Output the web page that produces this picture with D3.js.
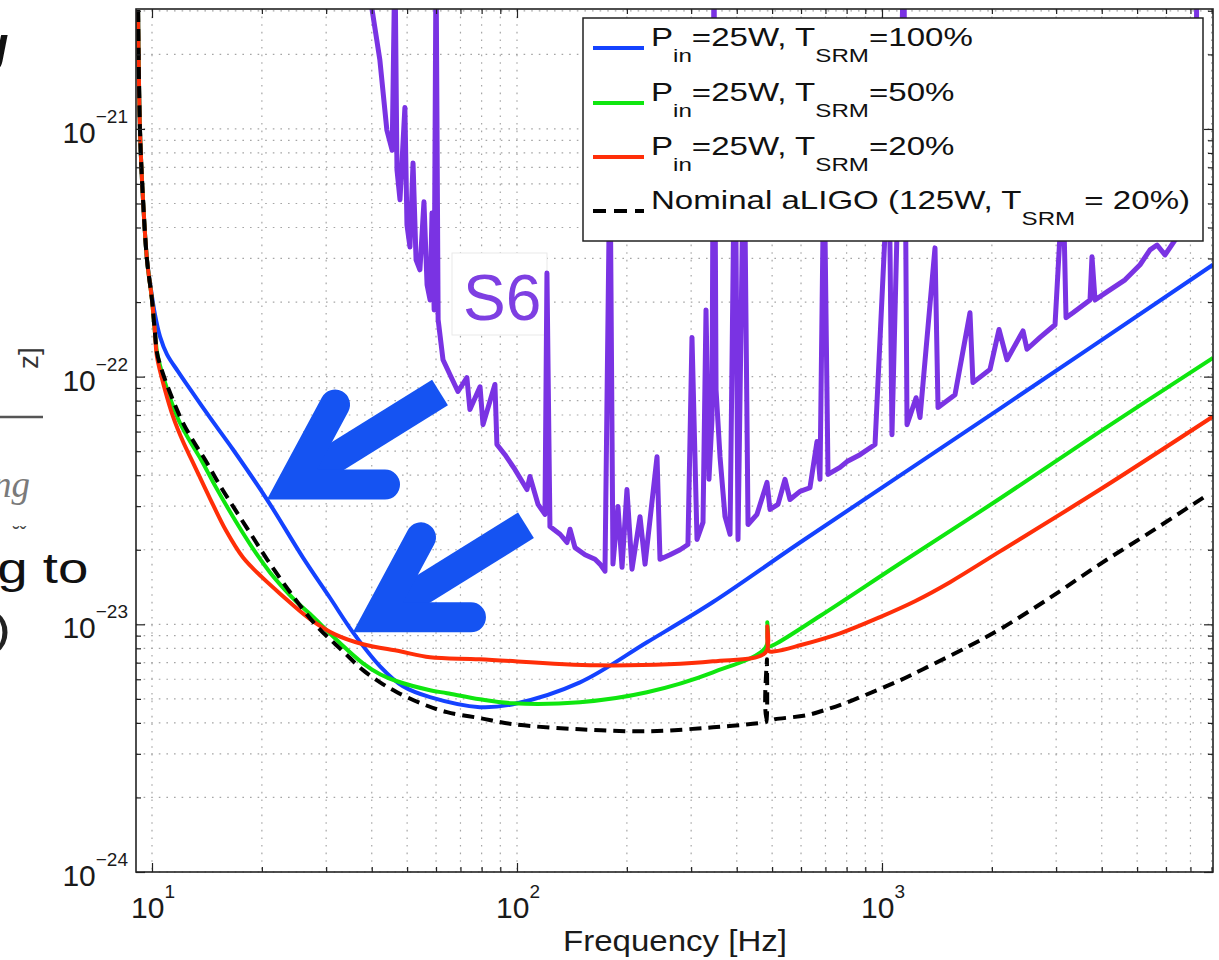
<!DOCTYPE html>
<html><head><meta charset="utf-8">
<script src="https://cdn.jsdelivr.net/npm/d3@7"></script>
<style>
body{margin:0;background:#fff;}
svg{display:block;font-family:"Liberation Sans",Arial,Helvetica,sans-serif;}
text{white-space:pre;}
</style>
</head><body>
<svg id="chart" width="1219" height="960"></svg>
<script>
// ---------------- data (frequency [Hz], strain [1/sqrt(Hz)]) ----------------
const s6 = [
[39.1,4.37e-21],[40.1,3.02e-21],[42.1,1.90e-21],[44.0,9.9e-22],[45.5,8.2e-22],[46.3,5e-21],[46.9,6.84e-22],
[47.8,5.18e-22],[49.3,1.22e-21],[49.95,4.10e-22],[50.9,3.34e-22],[51.9,7.29e-22],[52.9,2.96e-22],[54.2,2.70e-22],
[55.6,5.08e-22],[56.7,2.35e-22],[57.8,2.04e-22],[58.5,4.58e-22],[59.3,1.86e-22],[60.0,5e-21],[60.8,1.70e-22],
[62.7,1.17e-22],[65.5,1.02e-22],[68.9,8.71e-23],[72.9,9.9e-23],[74.3,7.36e-23],[79.2,9.1e-23],[80.7,6.40e-23],
[87.0,9.3e-23],[88.1,5.32e-23],[92.7,4.84e-23],[98.7,4.22e-23],[106.5,3.50e-23],[108.5,3.95e-23],[114.2,3.05e-23],
[119.3,2.78e-23],[120.8,2.62e-22],[123.1,2.48e-23],[131.2,2.31e-23],[137.1,2.14e-23],[139.7,2.42e-23],[144.2,2.04e-23],
[153.6,1.91e-23],[163.6,1.83e-23],[168.8,1.75e-23],[174.2,1.64e-23],[179.8,8.2e-22],[183.2,1.75e-23],[189.1,2.99e-23],
[194.0,1.70e-23],[200.1,3.50e-23],[206.6,1.67e-23],[217.3,2.72e-23],[224.3,1.75e-23],[241.9,4.75e-23],[246.5,1.83e-23],
[262.6,1.91e-23],[279.7,2.00e-23],[294.0,2.10e-23],[301.6,1.44e-22],[311.3,2.20e-23],[323.3,2.58e-23],[329.5,1.86e-22],
[335.7,3.85e-23],[342.1,6.71e-23],[346.5,5e-21],[351.0,8.87e-23],[359.9,4.75e-23],[371.5,2.72e-23],[383.4,2.31e-23],
[395.7,1.31e-21],[403.2,2.20e-23],[418.7,1.09e-21],[429.5,2.53e-23],[454.5,2.78e-23],[484.1,3.74e-23],[493.4,2.91e-23],
[518.9,3.05e-23],[542.3,3.85e-23],[559.7,3.19e-23],[596.3,3.44e-23],[634.9,3.56e-23],[663.6,5.47e-23],[676.3,3.85e-23],
[693.5,8.2e-22],[711.3,4.03e-23],[767.2,4.30e-23],[802.0,4.54e-23],[870.5,4.84e-23],[957,5.32e-23],[1045,8.2e-22],
[1065,5.83e-23],[1148,5e-21],[1171,6.40e-23],[1240,8.22e-23],[1271,6.84e-23],[1397,3.31e-22],[1424,7.50e-23],
[1585,8.45e-23],[1742,1.81e-22],[1775,9.46e-23],[1977,1.07e-22],[2092,1.55e-22],[2200,1.17e-22],[2434,1.53e-22],
[2496,1.29e-22],[2710,1.44e-22],[2979,1.62e-22],[3133,6.22e-22],[3193,1.73e-22],[3336,1.81e-22],[3715,2.04e-22],
[3761,3.05e-22],[3834,2.04e-22],[4134,2.20e-22],[4633,2.46e-22],[5093,2.83e-22],[5424,3.25e-22],[5669,3.40e-22],
[5962,3.10e-22],[6350,3.56e-22],[6763,3.85e-22],[7203,4.10e-22],[7295,5e-21]
];
const tsrm100 = [
[9.16,3.02e-21],[9.27,9.91e-22],[9.45,5.17e-22],[9.69,2.96e-22],[9.94,2.24e-22],[10.19,1.78e-22],[10.52,1.45e-22],
[10.99,1.23e-22],[11.78,1.05e-22],[12.47,9.28e-23],[14.42,6.83e-23],[16.67,5.08e-23],[20.66,3.19e-23],[25.92,1.86e-23],
[30.73,1.28e-23],[35.53,9.28e-24],[42.15,6.77e-24],[48.72,5.62e-24],[57.77,5.08e-24],[79.18,4.63e-24],[97.51,4.76e-24],
[148.8,5.83e-24],[227.1,8.46e-24],[344.4,1.23e-23],[596.3,2.14e-23],[2105,7.43e-23],[8070,2.83e-22]
];
const tsrm50 = [
[9.16,3.02e-21],[9.27,9.91e-22],[9.45,5.17e-22],[9.69,2.96e-22],[10.0,2.04e-22],[10.19,1.50e-22],[10.38,1.20e-22],
[11.71,6.90e-23],[12.63,5.57e-23],[13.62,4.63e-23],[14.88,3.63e-23],[16.15,2.94e-23],[17.64,2.37e-23],[19.40,1.91e-23],
[21.05,1.62e-23],[22.43,1.45e-23],[24.65,1.25e-23],[27.11,1.10e-23],[32.13,8.62e-24],[37.86,6.96e-24],[42.15,6.29e-24],
[46.91,5.89e-24],[57.77,5.42e-24],[64.31,5.27e-24],[79.18,4.98e-24],[97.51,4.80e-24],[148.8,4.85e-24],[227.1,5.32e-24],
[344.4,6.40e-24],[480,8.08e-24],[485,1.02e-23],[490,8.15e-24],[509.2,8.31e-24],[676.4,1.08e-23],[1120,1.76e-23],
[2105,3.22e-23],[3956,6.00e-23],[8070,1.19e-22]
];
const tsrm20 = [
[9.16,3.02e-21],[9.27,9.91e-22],[9.45,5.17e-22],[9.69,2.96e-22],[10.0,2.04e-22],[10.19,1.50e-22],[10.32,1.20e-22],
[10.85,8.86e-23],[11.42,6.90e-23],[12.16,5.47e-23],[12.95,4.50e-23],[14.42,3.22e-23],[15.95,2.39e-23],[17.76,1.86e-23],
[20.01,1.55e-23],[22.43,1.33e-23],[27.11,1.05e-23],[31.72,9.11e-24],[37.86,8.31e-24],[47.80,7.78e-24],[57.77,7.36e-24],
[79.18,7.23e-24],[165.6,6.83e-24],[344.4,7.09e-24],[480,7.71e-24],[485,9.82e-24],[490,7.8e-24],[509.2,7.78e-24],
[596.3,8.23e-24],[767.3,9.20e-24],[987.5,1.07e-23],[1231,1.24e-23],[1536,1.48e-23],[2105,1.97e-23],[3956,3.50e-23],
[8070,6.90e-23]
];
const nominal = [
[9.16,3.02e-21],[9.27,9.91e-22],[9.45,5.17e-22],[9.69,2.96e-22],[10.0,2.04e-22],[10.19,1.50e-22],[10.38,1.20e-22],
[11.93,6.90e-23],[12.95,5.52e-23],[13.97,4.63e-23],[15.36,3.63e-23],[16.88,2.91e-23],[18.67,2.31e-23],[20.66,1.83e-23],
[23.88,1.35e-23],[28.31,9.82e-24],[33.37,7.78e-24],[37.86,6.53e-24],[42.15,5.83e-24],[46.91,5.32e-24],[55.27,4.76e-24],
[64.31,4.42e-24],[79.18,4.18e-24],[97.51,3.95e-24],[148.8,3.77e-24],[227.1,3.70e-24],[344.4,3.84e-24],[480,4.03e-24],
[482,4.05e-24],[484,7.23e-24],[486,4.08e-24],[509.2,4.14e-24],[623.2,4.30e-24],[720.3,4.58e-24],[817,4.89e-24],
[968.9,5.42e-24],[1120,5.94e-24],[1295,6.59e-24],[1709,8.08e-24],[2105,9.55e-24],[2886,1.28e-23],[3956,1.75e-23],
[5423,2.35e-23],[7670,3.28e-23]
];
const xTickValues = [10, 100, 1000];
const xTickExponents = ["1", "2", "3"];
const yTickValues = [1e-24, 1e-23, 1e-22, 1e-21];
const yTickExponents = ["\u221224", "\u221223", "\u221222", "\u221221"];
const legendLabels = [
  [["P",0],["in",1],["=25W, T",0],["SRM",1],["=100%",0]],
  [["P",0],["in",1],["=25W, T",0],["SRM",1],["=50%",0]],
  [["P",0],["in",1],["=25W, T",0],["SRM",1],["=20%",0]],
  [["Nominal aLIGO (125W, T",0],["SRM",1],[" = 20%)",0]]
];
const xTitle = "Frequency [Hz]";
const s6Label = "S6";
const arrowTargets = [[20.66,3.19e-23],[35.53,9.28e-24]];

// ---------------- layout ----------------
const L = 136, R = 1213, T = 9, B = 872;
const x = d3.scaleLog().domain([9.04, 8070]).range([L, R]);
const y = d3.scaleLog().domain([1e-24, 3.05e-21]).range([B, T]);
const svg = d3.select("#chart");
svg.append("rect").attr("width",1219).attr("height",960).attr("fill","#fff");

// slide-text fragments at the left edge
const frag = svg.append("g").attr("fill","#111");
frag.append("text").attr("x",-22).attr("y",62).attr("font-size",50).attr("font-style","italic").attr("font-weight","bold").text("g");
frag.append("text").attr("transform","translate(38,369) rotate(-90)").attr("font-size",28).attr("fill","#333").text("z]");
frag.append("line").attr("x1",0).attr("x2",43).attr("y1",417).attr("y2",417).attr("stroke","#555").attr("stroke-width",2.5);
frag.append("text").attr("x",-7).attr("y",497).attr("font-size",37).attr("font-style","italic")
  .attr("font-family","'Liberation Serif','DejaVu Serif',serif").attr("fill","#7a7a7a").text("ng");
frag.append("text").attr("x",13).attr("y",541).attr("font-size",20).attr("fill","#444").text("\u02D8\u02C7");
frag.append("text").attr("transform","translate(-33,583) scale(1.3,1)").attr("font-size",42).text("ng to");
frag.append("text").attr("transform","translate(-8,644) scale(1.3,1)").attr("font-size",44).attr("fill","#222").text(")");

// grid
const xGrid = [], yGrid = [];
[10,100,1000].forEach(d => { for (let k=1;k<10;k++){ const v=k*d; if (v<=8070) xGrid.push(v);} });
[1e-24,1e-23,1e-22,1e-21].forEach(d => { for (let k=1;k<10;k++){ const v=k*d; if (v<=3.05e-21*1.0001) yGrid.push(v);} });
const grid = svg.append("g").attr("stroke","#a5a5a5").attr("stroke-width",1.2).attr("stroke-dasharray","1.6,6");
grid.selectAll(".gx").data(xGrid).join("line").attr("x1",d=>x(d)).attr("x2",d=>x(d)).attr("y1",T).attr("y2",B);
grid.selectAll(".gy").data(yGrid).join("line").attr("y1",d=>y(d)).attr("y2",d=>y(d)).attr("x1",L).attr("x2",R);

// S6 label box
svg.append("rect").attr("x",452).attr("y",253).attr("width",95).attr("height",82).attr("fill","#fff").attr("stroke","#e9e9e9");
svg.append("text").attr("x",463).attr("y",320).attr("font-size",64).attr("fill","#7e3fe2").text(s6Label);

// curves
const clip = svg.append("clipPath").attr("id","plotclip");
clip.append("rect").attr("x",L).attr("y",T).attr("width",R-L).attr("height",B-T);
const plot = svg.append("g").attr("clip-path","url(#plotclip)");
const lin = d3.line().x(d=>x(d[0])).y(d=>y(d[1]));
const smooth = d3.line().x(d=>x(d[0])).y(d=>y(d[1])).curve(d3.curveCatmullRom.alpha(0.5));
plot.append("path").attr("d",lin(s6)).attr("fill","none").attr("stroke","#7a33e3").attr("stroke-width",5).attr("stroke-linejoin","round");
const series = [
  {d:tsrm100, c:"#1442ff", dash:null},
  {d:tsrm50,  c:"#0fe60f", dash:null},
  {d:tsrm20,  c:"#ff2e08", dash:null},
  {d:nominal, c:"#000000", dash:"12,7"}
];
series.forEach(s => {
  plot.append("path").attr("d",smooth(s.d)).attr("fill","none").attr("stroke",s.c).attr("stroke-width",4)
    .attr("stroke-dasharray",s.dash).attr("stroke-linejoin","round");
});

// axes ticks (inward, all four sides)
function ticks(axisFn, tr, vals, len){
  const g = svg.append("g").attr("transform",tr).call(axisFn.tickValues(vals).tickSize(-len).tickFormat(""));
  g.select(".domain").remove();
  g.selectAll(".tick line").attr("stroke","#222").attr("stroke-width",1.2);
}
const xMinor = xGrid.filter(v=>!xTickValues.includes(v));
const yMinor = yGrid.filter(v=>!yTickValues.some(t=>Math.abs(t-v)/t<1e-6));
ticks(d3.axisBottom(x), `translate(0,${B})`, xTickValues, 9);
ticks(d3.axisBottom(x), `translate(0,${B})`, xMinor, 5);
ticks(d3.axisTop(x), `translate(0,${T})`, xTickValues, 9);
ticks(d3.axisTop(x), `translate(0,${T})`, xMinor, 5);
ticks(d3.axisLeft(y), `translate(${L},0)`, yTickValues, 9);
ticks(d3.axisLeft(y), `translate(${L},0)`, yMinor, 5);
ticks(d3.axisRight(y), `translate(${R},0)`, yTickValues, 9);
ticks(d3.axisRight(y), `translate(${R},0)`, yMinor, 5);
svg.append("rect").attr("x",L).attr("y",T).attr("width",R-L).attr("height",B-T).attr("fill","none").attr("stroke","#222").attr("stroke-width",1.6);

// tick labels
yTickValues.forEach((v,i) => {
  const t = svg.append("text").attr("x",128).attr("y",y(v)+14).attr("text-anchor","end").attr("font-size",30).attr("fill","#1a1a1a");
  t.append("tspan").text("10");
  t.append("tspan").attr("dy",-20).attr("font-size",19).text(yTickExponents[i]);
});
xTickValues.forEach((v,i) => {
  const t = svg.append("text").attr("x",x(v)+1).attr("y",918).attr("text-anchor","middle").attr("font-size",30).attr("fill","#1a1a1a");
  t.append("tspan").text("10");
  t.append("tspan").attr("dy",-20).attr("font-size",19).text(xTickExponents[i]);
});
const xt = svg.append("text").attr("text-anchor","middle").attr("font-size",30).attr("fill","#1a1a1a").text(xTitle);
const xtw = xt.node().getComputedTextLength();
xt.attr("transform",`translate(675,951) scale(${224/xtw},1)`);

// legend
const lg = svg.append("g");
lg.append("rect").attr("x",583).attr("y",18).attr("width",620).attr("height",223).attr("fill","#fff").attr("stroke","#222").attr("stroke-width",1.5);
const rowY = [48,103,157,211];
const texts = [];
legendLabels.forEach((parts,i) => {
  lg.append("line").attr("x1",593).attr("x2",644).attr("y1",rowY[i]).attr("y2",rowY[i])
    .attr("stroke",series[i].c).attr("stroke-width",4).attr("stroke-dasharray",series[i].dash ? "13,8" : null);
  const t = lg.append("text").attr("font-size",26).attr("fill","#111");
  let prev = 0;
  parts.forEach(([s,sub]) => {
    const off = sub ? 16 : 0;
    t.append("tspan").attr("dy", off - prev).attr("font-size", sub ? 19 : 26).text(s);
    prev = off;
  });
  texts.push(t);
});
const sx = 322 / texts[0].node().getComputedTextLength();
texts.forEach((t,i) => t.attr("transform",`translate(651,${rowY[i]-2}) scale(${sx},1)`));

// arrows (annotation pointing at the blue curve)
const ag = svg.append("g").attr("fill","none").attr("stroke","#1553f2").attr("stroke-width",30);
arrowTargets.forEach(p => {
  const tx = x(p[0]), ty = y(p[1]);
  ag.append("path").attr("d",`M${tx+173},${ty-107} L${tx+25},${ty-15}`).attr("stroke-linecap","butt");
  ag.append("path").attr("d",`M${tx+68},${ty-95} L${tx+25},${ty-15} L${tx+118},${ty-15}`)
    .attr("stroke-linecap","round").attr("stroke-linejoin","miter").attr("stroke-miterlimit",6);
});
</script>
</body></html>
